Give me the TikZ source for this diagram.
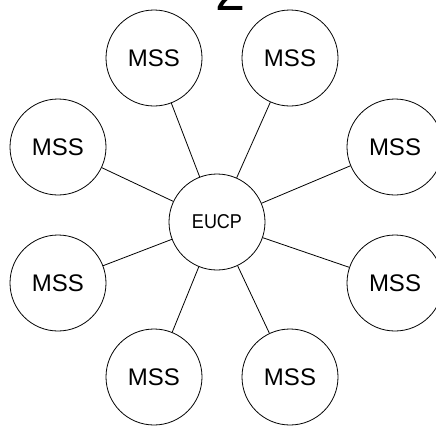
\documentclass[tikz,border=0pt]{standalone}
\usepackage{fontspec}
\setmainfont{Liberation Sans}
\begin{document}
\begin{tikzpicture}[x=1pt,y=-1pt,
  mss/.style={circle,draw,line width=0.8pt,minimum size=96pt,inner sep=0pt,font=\fontsize{24}{24}\selectfont},
  hub/.style={circle,draw,line width=0.8pt,minimum size=96pt,inner sep=0pt,font=\fontsize{20}{20}\selectfont},
  link/.style={line width=0.8pt}]
\useasboundingbox (0,0) rectangle (436,426);
\begin{scope}
\clip (0,0) rectangle (436,426);
\node[anchor=base,font=\fontsize{54}{54}\selectfont] (title) at (231,10) {2};
\node[hub] (eucp) at (217,222) {\scalebox{0.9}[1]{EUCP}};
\node[mss] (m1) at (154,58) {MSS};
\node[mss] (m2) at (290,58) {MSS};
\node[mss] (m3) at (58,147) {MSS};
\node[mss] (m4) at (395,147) {MSS};
\node[mss] (m5) at (58,283) {MSS};
\node[mss] (m6) at (395,283) {MSS};
\node[mss] (m7) at (154,377) {MSS};
\node[mss] (m8) at (290,377) {MSS};
\foreach \m in {m1,m2,m3,m4,m5,m6,m7,m8}
  \draw[link] (eucp) -- (\m);
\end{scope}
\end{tikzpicture}
\end{document}
